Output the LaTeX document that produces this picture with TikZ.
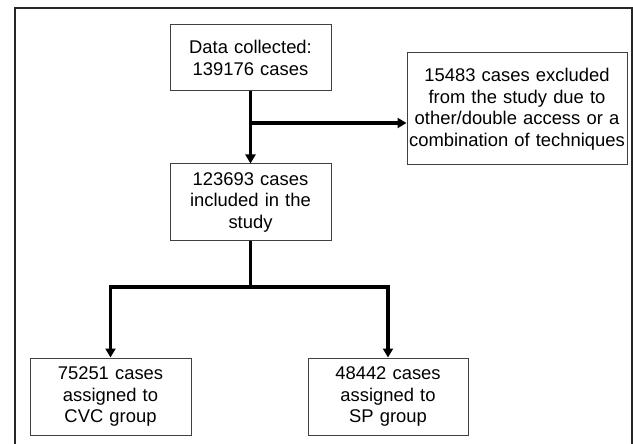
\documentclass[tikz,border=0pt]{standalone}
\usepackage{fontspec}
\setmainfont{Liberation Sans}
\usetikzlibrary{arrows.meta}
\tikzset{
	box/.style={draw=black!75, line width=1pt, fill=white, inner sep=0pt, align=center,
		font=\fontsize{18.4}{21.5}\selectfont},
	link/.style={line width=3.6pt, black},
	arr/.style={link, -{Triangle[length=9pt, width=10pt]}}
}
\begin{document}
\begin{tikzpicture}[x=1pt, y=-1pt]
\useasboundingbox (0, 0) rectangle (633, 444);
\draw[line width=2pt, black!85] (15, 450) -- (15, 8) -- (632, 8) -- (632, 450);

\node[box, text width=161pt, minimum height=66pt] (data) at (250.5, 58) {Data collected:\\139176 cases};
\node[box, text width=220pt, minimum height=112pt] (excl) at (517, 109)
	{15483 cases excluded\\from the study due to\\other/double access or a\\combination of techniques};
\node[box, text width=161pt, minimum height=76pt] (incl) at (250.5, 202) {123693 cases\\included in the\\study};
\node[box, text width=161pt, minimum height=77pt] (cvc) at (110.5, 396.5) {75251 cases\\assigned to\\CVC group};
\node[box, text width=160pt, minimum height=77pt] (sp) at (388, 396.5) {48442 cases\\assigned to\\SP group};

\coordinate (split) at (250.5, 123);
\coordinate (fork) at (250.5, 287);

\draw[arr] (data) -- (incl);
\draw[arr] (split) -- (split -| excl.west);
\draw[link] (incl) -- (fork);
\draw[arr] (fork) -| (cvc);
\draw[arr] (fork) -| (sp);

\end{tikzpicture}
\end{document}
